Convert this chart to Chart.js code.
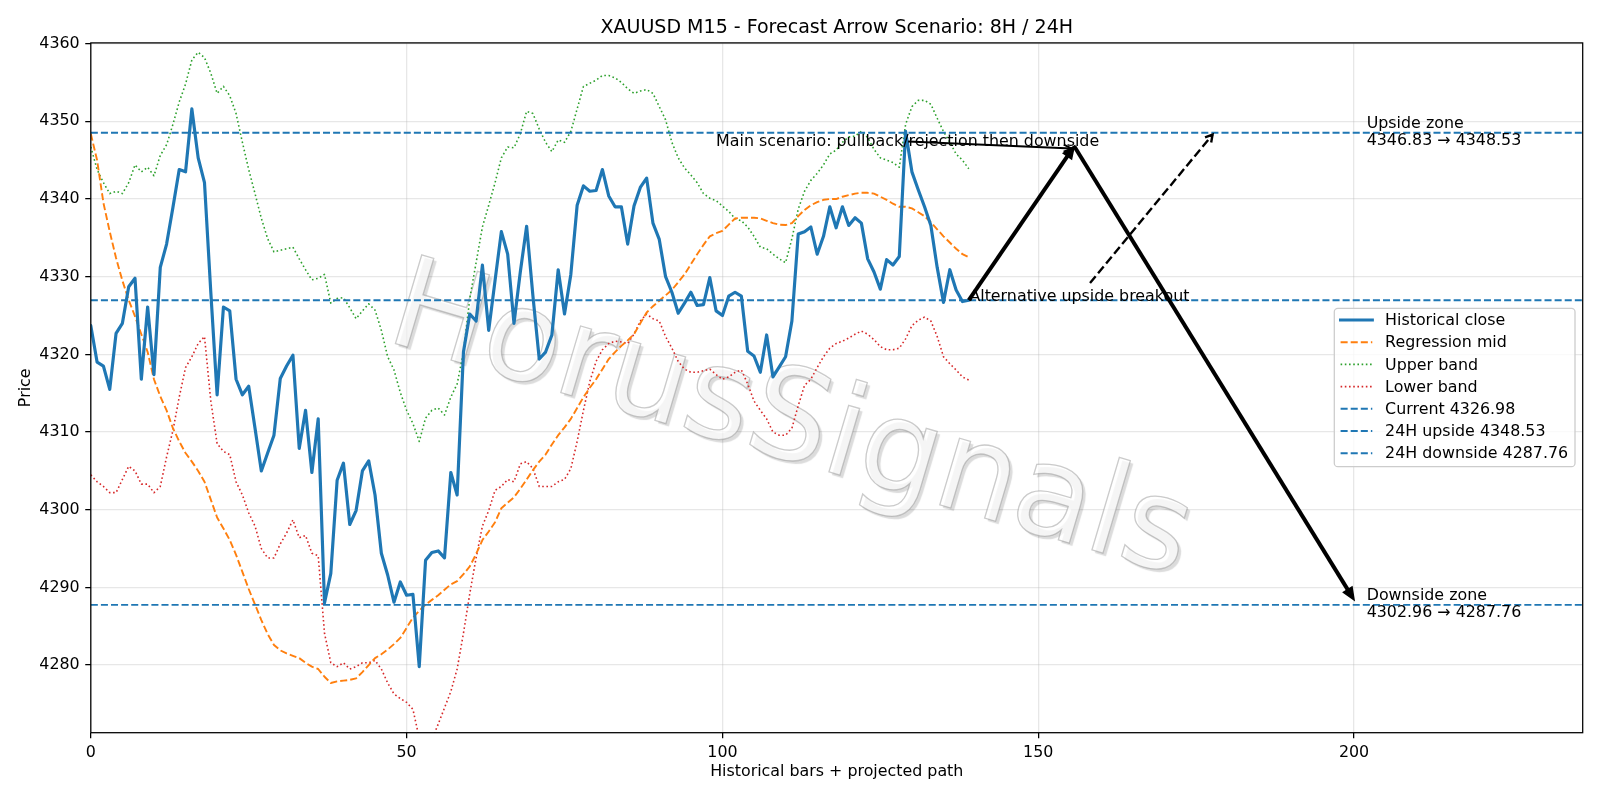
<!DOCTYPE html>
<html>
<head>
<meta charset="utf-8">
<script src="https://cdn.jsdelivr.net/npm/chart.js@4.4.1/dist/chart.umd.min.js"></script>
<style>
html,body{margin:0;padding:0;background:#ffffff;}
#wrap{width:1600px;height:800px;position:relative;}
canvas{display:block;}
</style>
</head>
<body>
<div id="wrap"><canvas id="c" width="1600" height="800"></canvas></div>
<script>
// ---------------- data ----------------
const CLOSE = [
4323.7,4319.0,4318.5,4315.5,4322.7,4324.0,4328.7,4329.8,4316.8,4326.1,
4317.4,4331.2,4334.2,4338.9,4343.8,4343.5,4351.6,4345.3,4342.1,4328.0,
4314.8,4326.1,4325.6,4316.8,4314.8,4315.9,4310.5,4305.0,4307.3,4309.6,
4316.9,4318.5,4319.9,4307.9,4312.8,4304.8,4311.7,4288.0,4291.8,4303.8,
4306.0,4298.1,4299.9,4305.0,4306.3,4301.9,4294.4,4291.6,4288.1,4290.7,
4289.0,4289.1,4279.8,4293.5,4294.5,4294.7,4293.8,4304.8,4301.9,4320.3,
4325.2,4324.3,4331.5,4323.1,4329.5,4335.8,4332.9,4324.0,4330.6,4336.5,
4327.5,4319.4,4320.3,4322.5,4330.9,4325.2,4330.3,4339.2,4341.7,4341.0,
4341.1,4343.8,4340.4,4339.0,4339.0,4334.2,4339.1,4341.5,4342.7,4336.9,
4334.8,4330.0,4328.0,4325.3,4326.6,4328.0,4326.3,4326.4,4329.9,4325.6,
4325.0,4327.5,4328.0,4327.5,4320.4,4319.8,4317.7,4322.5,4317.1,4318.4,
4319.7,4324.3,4335.5,4335.8,4336.4,4332.9,4335.2,4339.0,4336.3,4339.0,
4336.6,4337.6,4336.9,4332.3,4330.6,4328.4,4332.2,4331.5,4332.6,4348.7,
4343.5,4341.2,4339.0,4336.6,4331.2,4326.7,4330.9,4328.3,4326.8,4326.98
];
const MID = [
4348.4,4345.0,4339.5,4335.8,4332.4,4329.5,4327.0,4324.9,4322.6,4320.3,
4316.8,4314.6,4312.8,4310.5,4308.8,4307.3,4306.2,4305.0,4303.6,4301.3,
4299.0,4297.6,4296.1,4294.2,4292.0,4289.8,4287.8,4285.8,4284.0,4282.6,
4281.9,4281.5,4281.2,4280.9,4280.3,4279.8,4279.5,4278.5,4277.7,4277.9,
4278.0,4278.1,4278.3,4279.1,4280.0,4280.9,4281.4,4282.0,4282.7,4283.5,
4284.8,4286.1,4287.0,4287.8,4288.4,4289.0,4289.7,4290.4,4290.8,4291.7,
4292.7,4294.3,4296.1,4297.2,4298.4,4300.2,4300.9,4301.6,4302.7,4303.9,
4305.1,4306.2,4307.1,4308.4,4309.6,4310.6,4311.7,4313.1,4314.5,4315.7,
4316.8,4318.1,4319.4,4320.3,4321.1,4321.8,4322.6,4324.0,4325.4,4326.2,
4326.9,4327.6,4328.3,4329.3,4330.3,4331.6,4332.9,4334.1,4335.2,4335.6,
4335.9,4336.7,4337.5,4337.6,4337.6,4337.6,4337.5,4337.2,4336.9,4336.7,
4336.65,4336.9,4337.8,4338.6,4339.2,4339.6,4339.9,4340.0,4340.0,4340.3,
4340.5,4340.7,4340.8,4340.8,4340.7,4340.3,4339.9,4339.4,4339.0,4339.0,
4338.8,4338.3,4337.8,4337.0,4336.1,4335.2,4334.4,4333.6,4332.9,4332.5
];
const UPPER = [
4346.7,4343.8,4342.1,4340.7,4341.0,4340.7,4342.1,4344.4,4343.5,4344.1,
4343.0,4345.6,4347.0,4349.6,4352.5,4354.8,4357.9,4358.9,4358.2,4356.2,
4353.6,4354.5,4353.3,4351.0,4347.3,4343.8,4340.7,4337.5,4334.9,4333.2,
4333.4,4333.6,4333.8,4332.3,4330.9,4329.6,4329.8,4330.3,4326.6,4327.2,
4327.3,4326.0,4324.6,4325.6,4326.5,4325.7,4323.1,4319.7,4318.0,4315.1,
4312.8,4311.1,4308.8,4311.8,4312.8,4313.1,4312.2,4314.5,4316.2,4320.3,
4327.2,4331.8,4336.4,4339.2,4342.1,4345.3,4346.7,4346.6,4348.4,4351.3,
4351.0,4349.0,4347.3,4346.1,4347.6,4347.3,4348.7,4351.6,4354.5,4354.9,
4355.3,4355.9,4355.9,4355.6,4355.0,4354.2,4353.6,4353.9,4354.1,4353.6,
4351.9,4350.2,4347.3,4345.3,4344.0,4343.1,4342.1,4340.7,4340.1,4339.8,
4339.1,4338.4,4337.5,4337.2,4336.4,4335.2,4333.8,4333.6,4332.9,4332.3,
4331.8,4334.9,4338.7,4341.0,4342.4,4343.3,4344.4,4345.8,4346.3,4347.3,
4348.0,4348.1,4348.7,4347.9,4346.4,4345.3,4345.0,4344.7,4344.1,4349.6,
4351.9,4352.7,4352.7,4352.2,4350.4,4348.7,4347.3,4345.8,4345.0,4343.9
];
const LOWER = [
4304.5,4303.6,4303.0,4302.2,4302.2,4303.9,4305.6,4305.0,4303.3,4303.3,
4302.2,4303.0,4306.8,4310.2,4314.5,4318.3,4319.7,4321.4,4322.3,4314.0,
4308.5,4307.5,4307.1,4303.6,4301.9,4299.6,4297.9,4295.0,4293.8,4293.8,
4295.6,4297.0,4298.7,4296.4,4296.7,4294.4,4294.1,4284.1,4280.3,4279.8,
4280.3,4279.5,4279.8,4280.3,4280.3,4280.6,4279.5,4277.7,4276.3,4275.7,
4275.2,4274.3,4270.6,4269.8,4270.4,4272.4,4274.5,4276.6,4279.5,4284.1,
4289.2,4293.8,4297.9,4299.9,4302.5,4303.0,4303.9,4303.6,4305.9,4306.2,
4305.3,4303.0,4303.0,4303.0,4303.6,4303.9,4305.3,4308.8,4312.8,4316.5,
4319.1,4320.6,4321.4,4321.7,4321.6,4321.4,4322.6,4324.3,4325.2,4324.6,
4324.3,4322.3,4320.8,4319.1,4318.1,4317.7,4317.7,4317.9,4318.1,4317.4,
4316.8,4317.1,4317.7,4318.0,4316.2,4314.0,4312.8,4311.7,4310.0,4309.6,
4309.6,4310.5,4313.4,4316.0,4316.8,4318.3,4319.7,4320.8,4321.4,4321.7,
4322.1,4322.6,4323.0,4322.6,4321.9,4321.0,4320.6,4320.6,4320.8,4322.0,
4323.7,4324.4,4324.8,4324.3,4322.3,4319.7,4318.8,4318.0,4317.1,4316.7
];
const CURRENT = 4326.98;
const UP24 = 4348.53;
const DOWN24 = 4287.76;
const ZONE_UP = [4346.83, 4348.53];
const ZONE_DOWN = [4302.96, 4287.76];
const X_TICKS = [0, 50, 100, 150, 200];
const Y_TICKS = [4280, 4290, 4300, 4310, 4320, 4330, 4340, 4350, 4360];
const X_RANGE = [0, 236.2];
const Y_RANGE = [4271.3, 4360.1];
// projected path (data coordinates)
const MAIN_PATH = [[139, 4326.98], [155.7, 4346.8], [200, 4288.4]];
const ALT_PATH = [[158.2, 4329.2], [177.6, 4348.3]];
const MAIN_NOTE_POS = [99.0, 4346.8];
const MAIN_NOTE_ARROW = [[129.4, 4347.4], [155.3, 4346.5]];
const ALT_NOTE_POS = [139.1, 4326.9];
const ZONE_LABEL_X = 202;

const TITLE = 'XAUUSD M15 - Forecast Arrow Scenario: 8H / 24H';
const X_LABEL = 'Historical bars + projected path';
const Y_LABEL = 'Price';
const MAIN_NOTE = 'Main scenario: pullback/rejection then downside';
const ALT_NOTE = 'Alternative upside breakout';
const WATERMARK = 'HorusSignals';

// ---------------- styling ----------------
const PT = 114.2857 / 72;           // px per point
const FAM = '"DejaVu Sans", "Liberation Sans", sans-serif';
const FS = 10 * PT;                  // 10pt
const BLUE = '#1f77b4', ORANGE = '#ff7f0e', GREEN = '#2ca02c', RED = '#d62728';
const DASH = (lw) => [3.7 * lw * PT, 1.6 * lw * PT];
const DOT = (lw) => [1 * lw * PT, 1.65 * lw * PT];

const pts = (arr) => arr.map((v, i) => ({x: i, y: v}));

const SERIES = [
  {label: 'Historical close', data: pts(CLOSE), color: BLUE, lw: 2, dash: []},
  {label: 'Regression mid', data: pts(MID), color: ORANGE, lw: 1.2, dash: DASH(1.2)},
  {label: 'Upper band', data: pts(UPPER), color: GREEN, lw: 1, dash: DOT(1)},
  {label: 'Lower band', data: pts(LOWER), color: RED, lw: 1, dash: DOT(1)}
];
const LEVELS = [
  {label: 'Current ' + CURRENT.toFixed(2), value: CURRENT},
  {label: '24H upside ' + UP24.toFixed(2), value: UP24},
  {label: '24H downside ' + DOWN24.toFixed(2), value: DOWN24}
];

function strokePath(ctx, p, width, color, dash, cap) {
  ctx.save();
  ctx.strokeStyle = color; ctx.lineWidth = width;
  ctx.setLineDash(dash || []); ctx.lineCap = cap || 'butt'; ctx.lineJoin = 'round';
  ctx.beginPath();
  ctx.moveTo(p[0][0], p[0][1]);
  for (let i = 1; i < p.length; i++) ctx.lineTo(p[i][0], p[i][1]);
  ctx.stroke();
  ctx.restore();
}
function arrow(ctx, a, b, o) {
  const ang = Math.atan2(b[1] - a[1], b[0] - a[0]);
  const c = Math.cos(ang), s = Math.sin(ang);
  const base = [b[0] - o.len * c, b[1] - o.len * s];
  const end = o.filled ? base : b;
  strokePath(ctx, [a, end], o.width, '#000', o.dash, 'butt');
  ctx.save();
  ctx.strokeStyle = '#000'; ctx.fillStyle = '#000'; ctx.lineWidth = o.headWidth || o.width;
  ctx.setLineDash([]); ctx.lineJoin = 'miter'; ctx.lineCap = 'butt';
  ctx.beginPath();
  ctx.moveTo(base[0] - s * o.hw, base[1] + c * o.hw);
  ctx.lineTo(b[0], b[1]);
  ctx.lineTo(base[0] + s * o.hw, base[1] - c * o.hw);
  if (o.filled) { ctx.closePath(); ctx.fill(); }
  ctx.stroke();
  ctx.restore();
}

const overlay = {
  id: 'overlay',
  beforeDatasetsDraw(chart) {
    const {ctx} = chart;
    ctx.save();
    ctx.translate(790, 426);
    ctx.rotate(16.5 * Math.PI / 180);
    ctx.font = (80 * PT) + 'px ' + FAM;
    ctx.textAlign = 'center'; ctx.textBaseline = 'middle';
    ctx.shadowColor = 'rgba(0,0,0,0.2)';
    ctx.shadowOffsetX = 3; ctx.shadowOffsetY = 3; ctx.shadowBlur = 1;
    ctx.fillStyle = 'rgba(255,255,255,0.7)';
    ctx.fillText(WATERMARK, 0, 0);
    ctx.shadowColor = 'rgba(0,0,0,0)';
    ctx.lineWidth = 1.3;
    ctx.strokeStyle = 'rgba(140,140,140,0.45)';
    ctx.strokeText(WATERMARK, 0, 0);
    ctx.restore();
  },
  afterDatasetsDraw(chart) {
    const {ctx, chartArea: A, scales: {x, y}} = chart;
    const P = (d) => [x.getPixelForValue(d[0]), y.getPixelForValue(d[1])];
    // horizontal levels
    ctx.save();
    ctx.beginPath(); ctx.rect(A.left, A.top, A.right - A.left, A.bottom - A.top); ctx.clip();
    for (const L of LEVELS) {
      const py = y.getPixelForValue(L.value);
      strokePath(ctx, [[A.left, py], [A.right, py]], 1.2 * PT, BLUE, DASH(1.2));
    }
    ctx.restore();

    // projected arrows
    const m = MAIN_PATH.map(P);
    arrow(ctx, m[0], m[1], {width: 2.5 * PT, len: 12, hw: 5, filled: true, headWidth: 1.5});
    arrow(ctx, m[1], m[2], {width: 2.5 * PT, len: 12, hw: 5, filled: true, headWidth: 1.5});
    const al = ALT_PATH.map(P);
    arrow(ctx, al[0], al[1], {width: 1.5 * PT, len: 7, hw: 4, filled: false, dash: DASH(1.5)});

    // notes
    ctx.save();
    ctx.font = FS + 'px ' + FAM;
    ctx.fillStyle = '#000';
    ctx.textAlign = 'left'; ctx.textBaseline = 'alphabetic';
    const mp = P(MAIN_NOTE_POS);
    ctx.fillText(MAIN_NOTE, mp[0], mp[1]);
    const ap = P(ALT_NOTE_POS);
    ctx.fillText(ALT_NOTE, ap[0], ap[1]);
    ctx.restore();
    const na = MAIN_NOTE_ARROW.map(P);
    arrow(ctx, na[0], na[1], {width: 1.2 * PT, len: 8, hw: 3.5, filled: false});

    // zone labels
    ctx.save();
    ctx.font = FS + 'px ' + FAM;
    ctx.fillStyle = '#000';
    ctx.textAlign = 'left'; ctx.textBaseline = 'middle';
    const zx = x.getPixelForValue(ZONE_LABEL_X);
    const zones = [
      ['Upside zone', ZONE_UP[0].toFixed(2) + ' \u2192 ' + ZONE_UP[1].toFixed(2), UP24],
      ['Downside zone', ZONE_DOWN[0].toFixed(2) + ' \u2192 ' + ZONE_DOWN[1].toFixed(2), DOWN24]
    ];
    for (const z of zones) {
      const zy = y.getPixelForValue(z[2]);
      ctx.fillText(z[0], zx, zy - 8.5);
      ctx.fillText(z[1], zx, zy + 8.5);
    }
    ctx.restore();

    // spines
    ctx.save();
    ctx.strokeStyle = '#000'; ctx.lineWidth = 0.8 * PT;
    ctx.strokeRect(A.left, A.top, A.right - A.left, A.bottom - A.top);
    ctx.restore();

    // legend
    const LX = 1334.3, LY = 308.3, LW = 240.7, LH = 158.4;
    ctx.save();
    ctx.fillStyle = 'rgba(255,255,255,0.8)';
    ctx.strokeStyle = '#cccccc'; ctx.lineWidth = 0.8 * PT;
    ctx.beginPath();
    if (ctx.roundRect) ctx.roundRect(LX, LY, LW, LH, 3.5); else ctx.rect(LX, LY, LW, LH);
    ctx.fill(); ctx.stroke();
    ctx.restore();
    const items = SERIES.map(s => ({label: s.label, color: s.color, lw: s.lw, dash: s.dash}))
      .concat(LEVELS.map(l => ({label: l.label, color: BLUE, lw: 1.2, dash: DASH(1.2)})));
    ctx.save();
    ctx.font = FS + 'px ' + FAM;
    ctx.textAlign = 'left'; ctx.textBaseline = 'middle';
    items.forEach((it, i) => {
      const cy = 320 + i * 22.2;
      strokePath(ctx, [[LX + 6.3, cy], [LX + 6.3 + 31.7, cy]], it.lw * PT, it.color, it.dash, it.dash.length ? 'butt' : 'square');
      ctx.fillStyle = '#000';
      ctx.fillText(it.label, LX + 50.8, cy + 1);
    });
    ctx.restore();
  },
  afterDraw(chart) {
    const {ctx, chartArea: A} = chart;
    ctx.save();
    ctx.fillStyle = '#000';
    ctx.textAlign = 'center'; ctx.textBaseline = 'alphabetic';
    ctx.font = (12 * PT) + 'px ' + FAM;
    ctx.fillText(TITLE, (A.left + A.right) / 2, A.top - 6 * PT);
    ctx.font = FS + 'px ' + FAM;
    ctx.textBaseline = 'middle';
    ctx.fillText(X_LABEL, (A.left + A.right) / 2, 772);
    ctx.translate(25.5, (A.top + A.bottom) / 2);
    ctx.rotate(-Math.PI / 2);
    ctx.fillText(Y_LABEL, 0, 0);
    ctx.restore();
  }
};

const gridOpts = {
  color: 'rgba(176,176,176,0.3)', lineWidth: 0.8 * PT,
  tickColor: '#000', tickWidth: 0.8 * PT, tickLength: 3.5 * PT, drawOnChartArea: true
};
const tickFont = {family: FAM, size: FS};

new Chart(document.getElementById('c').getContext('2d'), {
  type: 'line',
  data: {
    datasets: SERIES.map(s => ({
      label: s.label, data: s.data, borderColor: s.color, backgroundColor: s.color,
      borderWidth: s.lw * PT, borderDash: s.dash, pointRadius: 0, pointHoverRadius: 0,
      tension: 0, fill: false, borderJoinStyle: 'round',
      borderCapStyle: s.dash.length ? 'butt' : 'round'
    }))
  },
  options: {
    responsive: false, animation: false, devicePixelRatio: 1,
    events: [],
    layout: {padding: {left: 0, top: 42.9, right: 17.3, bottom: 0}},
    plugins: {legend: {display: false}, tooltip: {enabled: false}, title: {display: false}},
    scales: {
      x: {
        type: 'linear', min: X_RANGE[0], max: X_RANGE[1],
        afterBuildTicks: (s) => { s.ticks = X_TICKS.map(v => ({value: v})); },
        afterFit: (s) => { s.height = 67.3; },
        grid: gridOpts, border: {display: false},
        ticks: {font: tickFont, color: '#000', padding: 3.5 * PT, maxRotation: 0, autoSkip: false,
                callback: (v) => String(v)}
      },
      y: {
        type: 'linear', min: Y_RANGE[0], max: Y_RANGE[1],
        afterBuildTicks: (s) => { s.ticks = Y_TICKS.map(v => ({value: v})); },
        afterFit: (s) => { s.width = 90.8; },
        grid: gridOpts, border: {display: false},
        ticks: {font: tickFont, color: '#000', padding: 3.5 * PT, autoSkip: false,
                callback: (v) => String(v)}
      }
    }
  },
  plugins: [overlay]
});
</script>
</body>
</html>
